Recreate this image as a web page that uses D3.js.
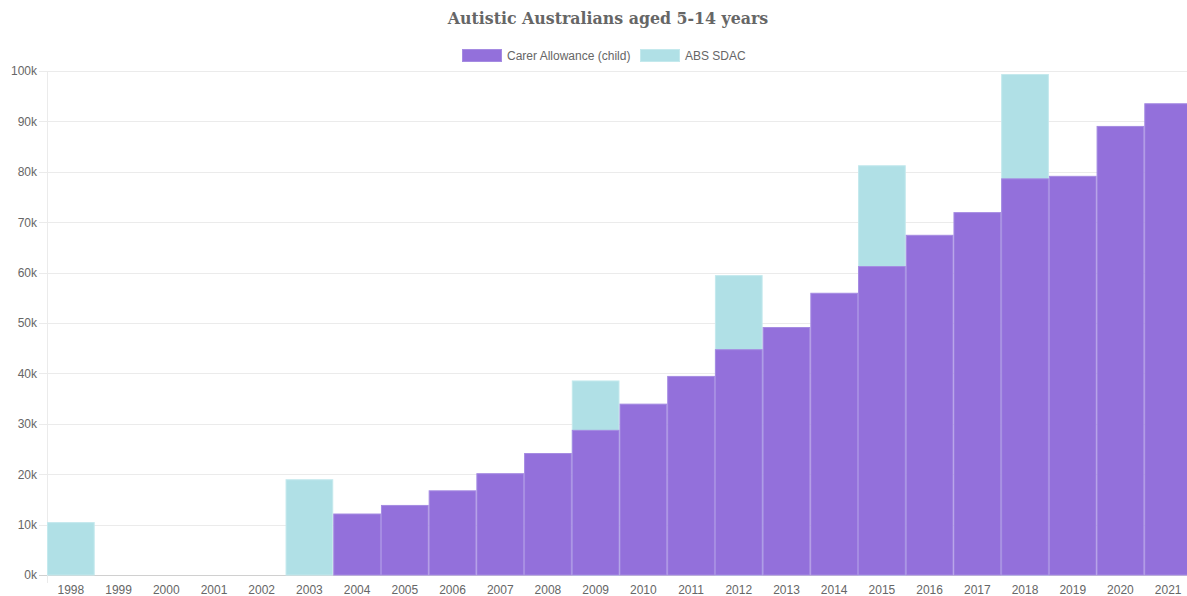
<!DOCTYPE html>
<html><head><meta charset="utf-8">
<script src="https://cdn.jsdelivr.net/npm/d3@7"></script>
<style>body{margin:0;background:#fff;overflow:hidden}svg{display:block}</style>
</head><body><svg id="c" width="1187" height="596"></svg>
<script>
const years = ["1998","1999","2000","2001","2002","2003","2004","2005","2006","2007","2008","2009","2010","2011","2012","2013","2014","2015","2016","2017","2018","2019","2020","2021"];
const carerAllowance = [null,null,null,null,null,null,12.2,13.9,16.8,20.2,24.2,28.8,34.0,39.5,44.8,49.2,56.0,61.3,67.5,72.0,78.7,79.2,89.1,93.6].map(v=>v==null?null:v*1000);
const absSdac = [10.5,null,null,null,null,19.0,null,null,null,null,null,38.6,null,null,59.5,null,null,81.3,null,null,99.4,null,null,null].map(v=>v==null?null:v*1000);
const yTicks = [0,10000,20000,30000,40000,50000,60000,70000,80000,90000,100000];
const seriesNames = ["Carer Allowance (child)","ABS SDAC"];
const colors = ["#9370DB","#B0E0E6"];
const borders = ["#a58be2","#c4e9ed"];

const svg = d3.select("#c");
const W=1187,H=596;
const m={l:47,t:71,b:21};
const x=d3.scaleBand().domain(years).range([m.l,1192]).padding(0);
const y=d3.scaleLinear().domain([0,100000]).range([H-m.b,m.t]);

svg.append("text").attr("x",608).attr("y",24).attr("text-anchor","middle")
 .attr("font-family","'DejaVu Serif', Georgia, serif").attr("font-weight","bold")
 .attr("font-size",15.8).attr("fill","#666").text("Autistic Australians aged 5-14 years");

const g=svg.append("g");
g.selectAll("line.grid").data(yTicks).join("line")
 .attr("x1",m.l-8).attr("x2",W).attr("y1",d=>Math.round(y(d))+0.5).attr("y2",d=>Math.round(y(d))+0.5)
 .attr("stroke",d=>d===0?"#d0d0d0":"#ebebeb").attr("stroke-width",1);
g.append("line").attr("x1",m.l+0.5).attr("x2",m.l+0.5).attr("y1",m.t).attr("y2",H-m.b+8)
 .attr("stroke","#ebebeb");

const yAxis=d3.axisLeft(y).tickValues(yTicks).tickFormat(d=>(d/1000)+"k").tickSize(0).tickPadding(10);
const ya=svg.append("g").attr("transform",`translate(${m.l},0)`).call(yAxis);
ya.select(".domain").remove();
ya.selectAll("text").attr("font-family","'Liberation Sans', Arial, sans-serif").attr("font-size",12).attr("fill","#666");

const xAxis=d3.axisBottom(x).tickSize(0).tickPadding(10);
const xa=svg.append("g").attr("transform",`translate(0,${H-m.b})`).call(xAxis);
xa.select(".domain").remove();
xa.selectAll("text").attr("font-family","'Liberation Sans', Arial, sans-serif").attr("font-size",12).attr("fill","#666");

const bw=x.bandwidth();
[[absSdac,1],[carerAllowance,0]].forEach(([vals,i])=>{
  svg.append("g").selectAll("rect").data(years.map((yr,k)=>({yr,v:vals[k]})).filter(d=>d.v!=null)).join("rect")
   .attr("x",d=>x(d.yr)+0.5).attr("width",bw-1)
   .attr("y",d=>y(d.v)+0.5).attr("height",d=>y(0)-y(d.v)-0.5)
   .attr("fill",colors[i]).attr("stroke",borders[i]).attr("stroke-width",1);
});

const lg=svg.append("g");
const items=[{x:462,tx:507},{x:640,tx:685}];
seriesNames.forEach((n,i)=>{
  lg.append("rect").attr("x",items[i].x+0.5).attr("y",49.5).attr("width",39).attr("height",12)
   .attr("fill",colors[i]).attr("stroke",borders[i]).attr("stroke-width",1);
  lg.append("text").attr("x",items[i].tx).attr("y",59.5).attr("font-family","'Liberation Sans', Arial, sans-serif")
   .attr("font-size",12).attr("fill","#666").text(n);
});
</script></body></html>
